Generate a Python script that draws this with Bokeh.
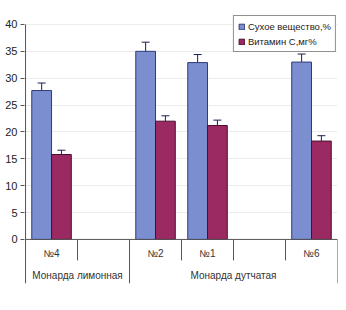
from bokeh.plotting import figure
from bokeh.models import Range1d, FixedTicker, ColumnDataSource, Whisker, TeeHead, Legend, LegendItem
from bokeh.core.properties import value
from bokeh.embed import file_html
from bokeh.resources import INLINE

# data
sub_labels = ["№4", "", "№2", "№1", "", "№6"]
group_labels = ["Монарда лимонная", "Монарда дутчатая"]
group_spans = [(0, 2), (2, 6)]
bar_slots = [0, 2, 3, 5]
dry_matter = [27.7, 35.0, 32.9, 33.0]
dry_err = [1.4, 1.7, 1.5, 1.5]
vitamin_c = [15.8, 22.0, 21.2, 18.3]
vit_err = [0.8, 1.0, 1.0, 1.0]
y_ticks = [0, 5, 10, 15, 20, 25, 30, 35, 40]

FONT = "Liberation Sans"
BLUE = "#7b8fd0"
BLUE_LINE = "#2f3a78"
RED = "#9b2a62"
RED_LINE = "#4a1030"
AX = "#555555"

p = figure(width=338, height=302, output_backend="svg", toolbar_location=None,
           x_range=Range1d(-0.02, 6), y_range=Range1d(-8.2, 41.85),
           min_border_left=24, min_border_right=1, min_border_top=14, min_border_bottom=19)
p.outline_line_color = None
p.xaxis.visible = False
p.xgrid.visible = False
p.ygrid.ticker = FixedTicker(ticks=y_ticks[1:])
p.ygrid.grid_line_color = "#ececec"
p.yaxis.ticker = FixedTicker(ticks=y_ticks)
p.yaxis.major_tick_out = 4
p.yaxis.major_tick_in = 0
p.yaxis.minor_tick_line_color = None
p.yaxis.major_label_standoff = 3
p.yaxis.major_label_text_font = FONT
p.yaxis.major_label_text_font_size = "11px"
p.yaxis.major_label_text_color = "#222222"
p.yaxis.axis_line_color = None
p.yaxis.major_tick_line_color = AX

off = 0.19
w = 0.38
xb = [s + 0.5 - off for s in bar_slots]
xr = [s + 0.5 + off for s in bar_slots]
src = ColumnDataSource(dict(xb=xb, xr=xr, dry=dry_matter, vit=vitamin_c,
                            dlo=[v - e for v, e in zip(dry_matter, dry_err)],
                            dhi=[v + e for v, e in zip(dry_matter, dry_err)],
                            vlo=[v - e for v, e in zip(vitamin_c, vit_err)],
                            vhi=[v + e for v, e in zip(vitamin_c, vit_err)]))
rb = p.vbar(x="xb", top="dry", width=w, bottom=0, source=src, fill_color=BLUE, line_color=BLUE_LINE, line_width=1)
rr = p.vbar(x="xr", top="vit", width=w, bottom=0, source=src, fill_color=RED, line_color=RED_LINE, line_width=1)

for xk, lo, hi in (("xb", "dlo", "dhi"), ("xr", "vlo", "vhi")):
    wk = Whisker(base=xk, lower=lo, upper=hi, source=src, line_color="#1a2050", line_width=1,
                 upper_head=TeeHead(size=8, line_color="#1a2050", line_width=1),
                 lower_head=TeeHead(size=8, line_color="#1a2050", line_width=1))
    p.add_layout(wk)

# value axis line (0..40 and down through the category rows)
p.segment(x0=[0], y0=[-8.2], x1=[0], y1=[y_ticks[-1]], line_color=AX, line_width=1)
# category axis drawn as lines and texts
p.segment(x0=[0], y0=[0], x1=[6], y1=[0], line_color=AX, line_width=1)
inner = [1, 3, 4, 5]
p.segment(x0=inner, y0=[0] * len(inner), x1=inner, y1=[-3.9] * len(inner), line_color=AX, line_width=1)
outer = [2, 6]
p.segment(x0=outer, y0=[0] * len(outer), x1=outer, y1=[-8.2] * len(outer), line_color=AX, line_width=1)

p.text(x=[i + 0.5 for i in range(6)], y=[-2.6] * 6, text=sub_labels, text_font=value(FONT),
       text_font_size="10px", text_color="#333333", text_align="center", text_baseline="middle")
p.text(x=[(a + b) / 2 for a, b in group_spans], y=[-6.7] * 2, text=group_labels, text_font=value(FONT),
       text_font_size="10px", text_color="#333333", text_align="center", text_baseline="middle")

legend = Legend(items=[LegendItem(label="Сухое вещество,%", renderers=[rb]),
                       LegendItem(label="Витамин С,мг%", renderers=[rr])],
                location="top_right")
legend.border_line_color = "#222222"
legend.border_line_width = 1
legend.background_fill_color = "white"
legend.label_text_font = FONT
legend.label_text_font_size = "9.5px"
legend.label_text_color = "#222222"
legend.glyph_width = 7
legend.glyph_height = 7
legend.label_standoff = 3
legend.padding = 4
legend.spacing = 3
legend.label_height = 12
legend.margin = 1
p.add_layout(legend)

open("out.html", "w").write(file_html(p, INLINE))
